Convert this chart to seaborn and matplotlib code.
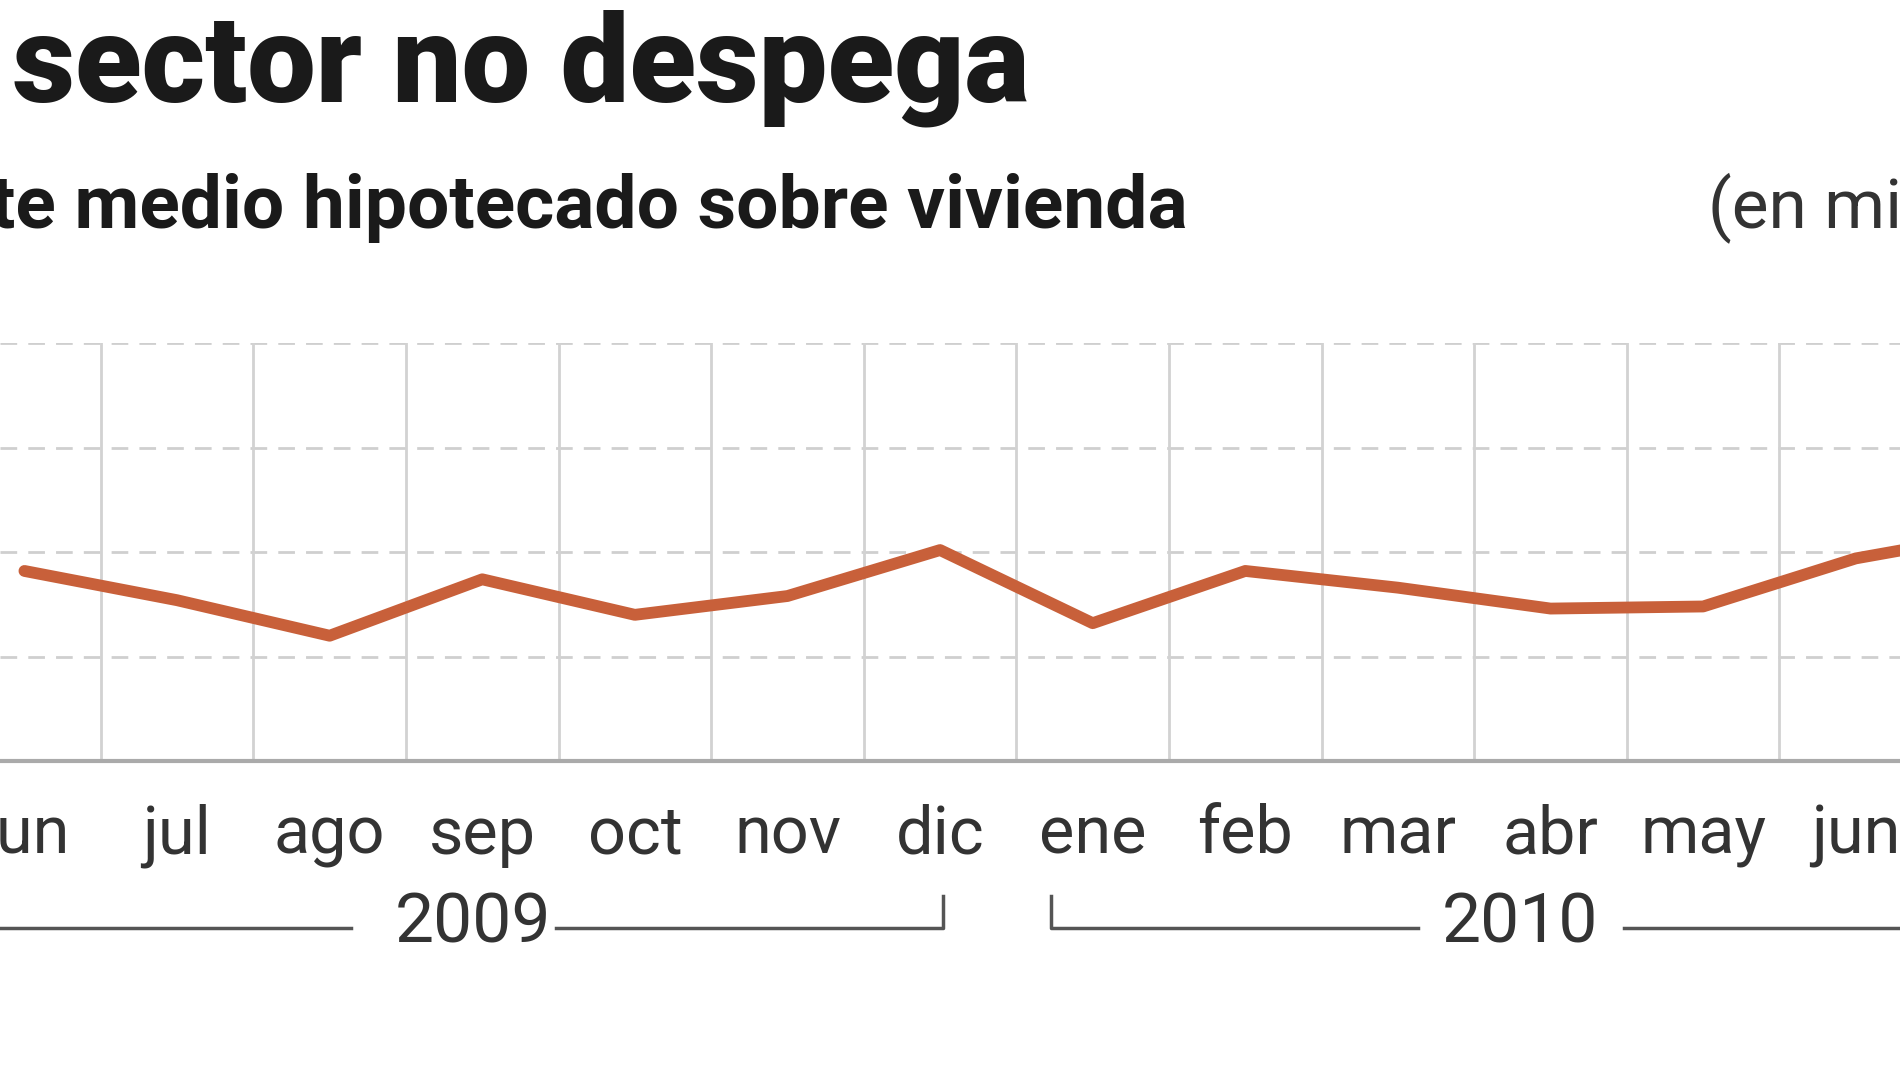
import matplotlib
matplotlib.use("Agg")
import matplotlib.pyplot as plt
import matplotlib.transforms as mtransforms
import seaborn as sns
import pandas as pd
from matplotlib import font_manager

months = ["jun", "jul", "ago", "sep", "oct", "nov", "dic", "ene", "feb", "mar", "abr", "may", "jun", "jul"]
values = [119.1, 117.7, 116.0, 118.7, 117.0, 117.9, 120.1, 116.6, 119.1, 118.3, 117.3, 117.4, 119.7, 121.0]
years = ["2009", "2010"]
yticks = [110, 115, 120, 125, 130]

names = {f.name for f in font_manager.fontManager.ttflist}
fam = "Liberation Sans Narrow" if "Liberation Sans Narrow" in names else "Roboto"

df = pd.DataFrame({"x": range(len(months)), "v": values})

fig = plt.figure(figsize=(19, 10.69), dpi=100)
ax = fig.add_axes([0, 0.288, 1, 0.391])
sns.lineplot(data=df, x="x", y="v", ax=ax, color="#c8603a", linewidth=8.5, solid_capstyle="round",
             solid_joinstyle="round")
ax.set_xlim(-0.16, 12.29)
ax.set_ylim(110, 130)
for s in ax.spines.values():
    s.set_visible(False)
ax.set_xticks([]); ax.set_yticks([])
ax.set_xlabel(""); ax.set_ylabel("")
for y in yticks[1:]:
    ax.axhline(y, color="#cfcfcf", lw=2, ls=(0, (6, 4)), zorder=0)
for i in range(len(months) - 1):
    ax.axvline(i + 0.5, color="#d2d2d2", lw=2, zorder=0)
ax.axhline(110, color="#aaaaaa", lw=3, zorder=1, clip_on=False)

tr = mtransforms.blended_transform_factory(ax.transData, fig.transFigure)
for i, m in enumerate(months):
    fig.text(i, 0.218, m, transform=tr, ha="center", va="center", fontsize=48, family=fam, color="#333333")
fig.text(3.0 - 0.06, 0.136, years[0], transform=tr, ha="center", va="center", fontsize=50, family=fam, color="#333333")
fig.text(9.8, 0.136, years[1], transform=tr, ha="center", va="center", fontsize=50, family=fam, color="#333333")
lc = "#555555"
ax.plot([-1, 2.14], [0.132, 0.132], transform=tr, color=lc, lw=2.5, clip_on=False)
ax.plot([3.48, 6.02, 6.02], [0.132, 0.132, 0.162], transform=tr, color=lc, lw=2.5, clip_on=False)
ax.plot([6.73, 6.73, 9.13], [0.162, 0.132, 0.132], transform=tr, color=lc, lw=2.5, clip_on=False)
ax.plot([10.48, 13], [0.132, 0.132], transform=tr, color=lc, lw=2.5, clip_on=False)

fig.text(0.542, 0.905, "El sector no despega", ha="right", va="baseline", fontsize=88,
         fontweight="black", family="Roboto", color="#1a1a1a")
fig.text(0.625, 0.787, "Importe medio hipotecado sobre vivienda", ha="right", va="baseline",
         fontsize=54, fontweight="bold", family=fam, color="#1a1a1a")
fig.text(0.899, 0.787, "(en miles de euros)", ha="left", va="baseline", fontsize=50,
         family=fam, color="#333333")
fig.savefig("out.png", dpi=100, facecolor="white")
